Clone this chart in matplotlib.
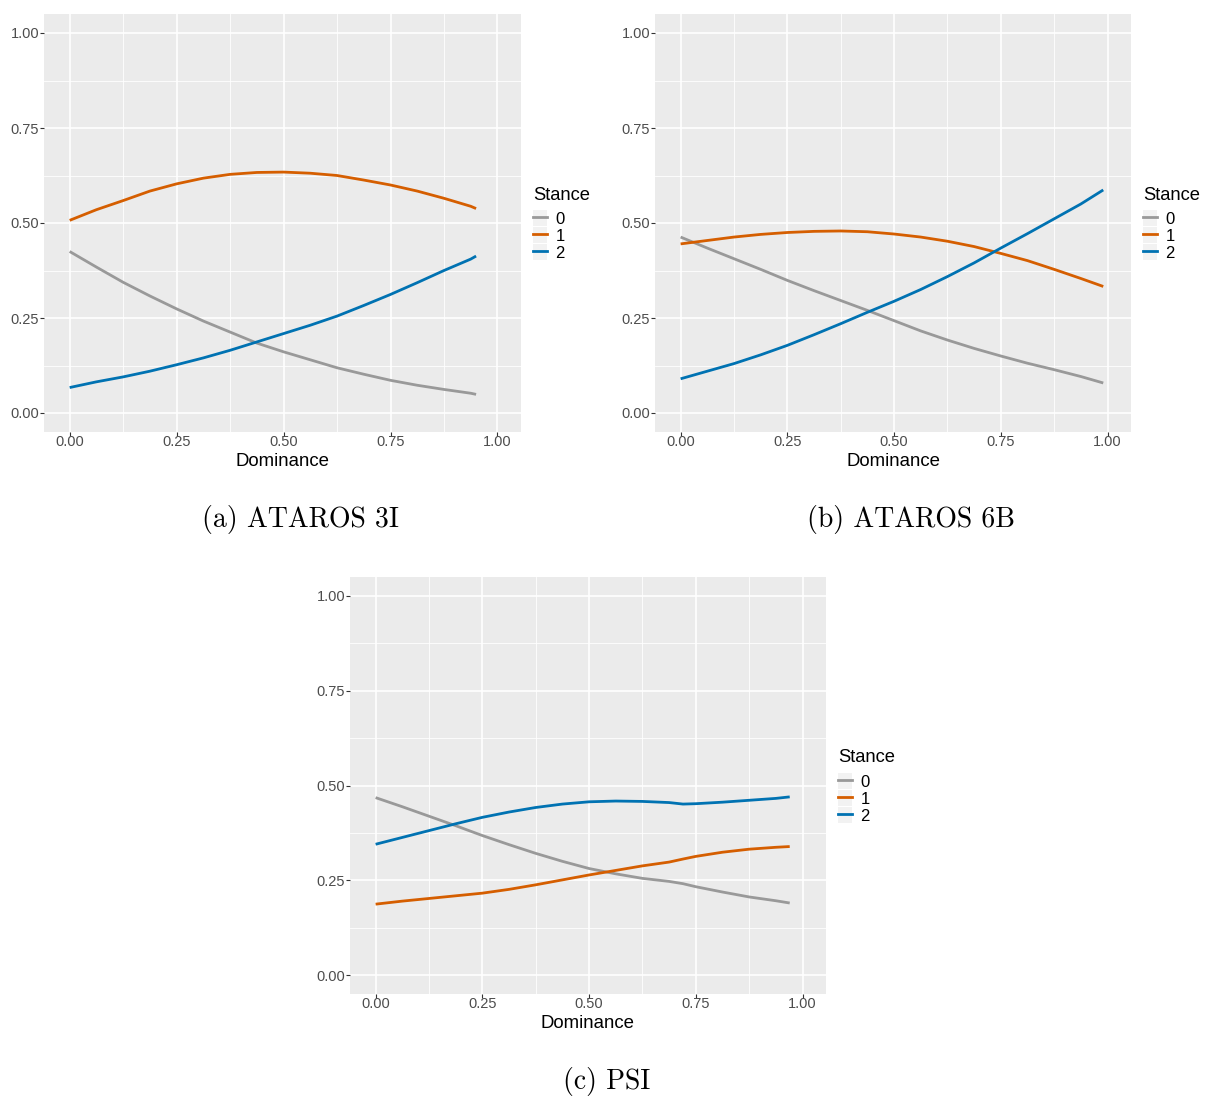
import matplotlib
matplotlib.use("Agg")
import matplotlib.pyplot as plt
from matplotlib.patches import Rectangle
from matplotlib.lines import Line2D

plt.rcParams['font.family'] = ['Liberation Sans', 'DejaVu Sans']

# values (Dominance -> probability of each stance)
x_3i = [0.0, 0.0625, 0.125, 0.1875, 0.25, 0.3125, 0.375, 0.4375, 0.5,
        0.5625, 0.625, 0.6875, 0.75, 0.8125, 0.875, 0.9375, 0.95]
s0_3i = [0.425, 0.384, 0.344, 0.308, 0.274, 0.242, 0.213, 0.184, 0.161,
         0.140, 0.119, 0.102, 0.086, 0.073, 0.062, 0.052, 0.049]
s1_3i = [0.507, 0.535, 0.559, 0.584, 0.603, 0.618, 0.628, 0.633, 0.634,
         0.631, 0.625, 0.613, 0.600, 0.584, 0.565, 0.544, 0.538]
s2_3i = [0.067, 0.082, 0.095, 0.110, 0.127, 0.145, 0.165, 0.187, 0.209,
         0.231, 0.255, 0.283, 0.312, 0.343, 0.375, 0.405, 0.413]

x_6b = [0.0, 0.0625, 0.125, 0.1875, 0.25, 0.3125, 0.375, 0.4375, 0.5,
        0.5625, 0.625, 0.6875, 0.75, 0.8125, 0.875, 0.9375, 0.99]
s0_6b = [0.463, 0.434, 0.406, 0.378, 0.349, 0.322, 0.296, 0.270, 0.243,
         0.216, 0.192, 0.170, 0.150, 0.131, 0.114, 0.096, 0.079]
s1_6b = [0.445, 0.454, 0.463, 0.470, 0.475, 0.478, 0.479, 0.477, 0.471,
         0.463, 0.452, 0.438, 0.420, 0.401, 0.378, 0.354, 0.333]
s2_6b = [0.090, 0.110, 0.130, 0.153, 0.178, 0.206, 0.235, 0.265, 0.294,
         0.325, 0.359, 0.395, 0.434, 0.472, 0.511, 0.550, 0.587]

x_psi = [0.0, 0.0625, 0.125, 0.1875, 0.25, 0.3125, 0.375, 0.4375, 0.5,
         0.5625, 0.625, 0.6875, 0.72, 0.75, 0.8125, 0.875, 0.9375, 0.97]
s0_psi = [0.468, 0.444, 0.419, 0.394, 0.368, 0.344, 0.321, 0.300, 0.281,
          0.267, 0.255, 0.247, 0.241, 0.233, 0.219, 0.206, 0.196, 0.190]
s1_psi = [0.187, 0.195, 0.202, 0.209, 0.216, 0.226, 0.238, 0.251, 0.264,
          0.276, 0.288, 0.298, 0.306, 0.313, 0.324, 0.332, 0.337, 0.339]
s2_psi = [0.345, 0.363, 0.381, 0.399, 0.416, 0.430, 0.442, 0.451, 0.457,
          0.459, 0.458, 0.455, 0.451, 0.452, 0.456, 0.461, 0.466, 0.470]

stances = ['0', '1', '2']
colors = ['#999999', '#D55E00', '#0072B2']
captions = ['(a) ATAROS 3I', '(b) ATAROS 6B', '(c) PSI']

panels = [
    (x_3i, [s0_3i, s1_3i, s2_3i]),
    (x_6b, [s0_6b, s1_6b, s2_6b]),
    (x_psi, [s0_psi, s1_psi, s2_psi]),
]

W, H = 1205, 1097
fig = plt.figure(figsize=(W / 100, H / 100), dpi=100)

# axes boxes in pixels: left, top, right, bottom
boxes = [(44, 14, 521, 432), (655, 14, 1131, 432), (350, 577, 826, 994)]
cap_pos = [(301, 519), (911, 519), (607, 1081)]

ticks = [0, 0.25, 0.5, 0.75, 1.0]
minor = [0.125, 0.375, 0.625, 0.875]

for (xs, ys), box, cap, cp in zip(panels, boxes, captions, cap_pos):
    l, t, r, b = box
    hgt = b - t
    ax = fig.add_axes([l / W, 1 - b / H, (r - l) / W, hgt / H])
    ax.set_facecolor('#EBEBEB')
    for s in ax.spines.values():
        s.set_visible(False)
    ax.set_xlim(-0.06, 1.055)
    ax.set_ylim(-0.05, 1.05)
    ax.set_xticks(ticks)
    ax.set_yticks(ticks)
    ax.set_xticks(minor, minor=True)
    ax.set_yticks(minor, minor=True)
    ax.set_xticklabels(['%.2f' % v for v in ticks])
    ax.set_yticklabels(['%.2f' % v for v in ticks])
    ax.grid(which='major', color='white', lw=1.2)
    ax.grid(which='minor', color='white', lw=0.6)
    ax.set_axisbelow(True)
    ax.tick_params(which='major', length=3, width=0.8, color='#333333',
                   labelcolor='#4D4D4D', labelsize=10.5)
    ax.tick_params(axis='x', which='major', pad=-0.5)
    ax.tick_params(axis='y', which='major', pad=0.5)
    ax.tick_params(which='minor', length=0)
    ax.set_xlabel('Dominance', fontsize=13.4, color='black', labelpad=2.5)

    for yv, c in zip(ys, colors):
        ax.plot(xs, yv, color=c, lw=2.0, solid_capstyle='butt')

    # legend: title placed separately, keys with grey background
    lx = 1.0 + 12 / (r - l)
    ax.text(lx, (hgt - (195 - 14)) / hgt, 'Stance', transform=ax.transAxes,
            fontsize=13.2, ha='left', va='center')
    handles = [(Rectangle((0, 0), 1, 1, facecolor='#F2F2F2', edgecolor='none'),
                Line2D([], [], color=c, lw=2.0)) for c in colors]
    ax.legend(handles, stances, loc='upper left',
              bbox_to_anchor=(lx, (hgt - (210 - 14)) / hgt),
              frameon=False, fontsize=12, handlelength=0.85,
              handleheight=1.14, labelspacing=0.0, handletextpad=0.5,
              borderpad=0.0, borderaxespad=0.0)

    fig.text(cp[0] / W, 1 - cp[1] / H, cap, family='cmr10', fontsize=20,
             ha='center', va='center')

fig.savefig('out.png', dpi=100)
